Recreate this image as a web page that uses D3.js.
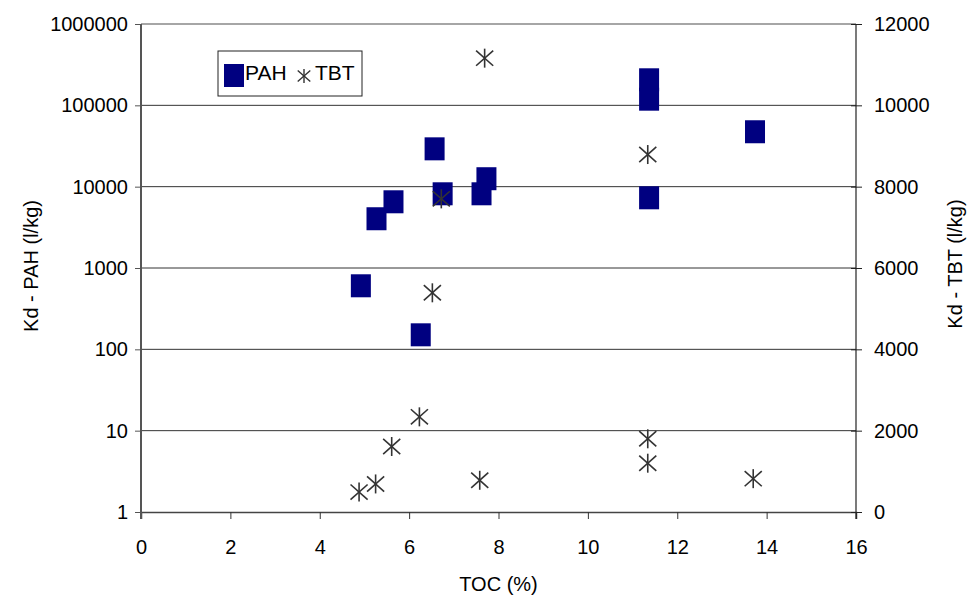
<!DOCTYPE html>
<html>
<head>
<meta charset="utf-8">
<script src="https://cdn.jsdelivr.net/npm/d3@7"></script>
<style>
  body { margin: 0; background: #fff; }
  text { font-family: "Liberation Sans", Arial, sans-serif; fill: #000; }
</style>
</head>
<body>
<svg id="chart" width="971" height="601"></svg>
<script>
// values
var tocPAH = [4.92, 5.27, 5.65, 6.26, 6.57, 6.75, 7.62, 7.73, 11.37, 11.37, 11.37, 13.74];
var kdPAH  = [613, 4090, 6610, 153, 29600, 8290, 8290, 12700, 209000, 120700, 7400, 48000];
var tocTBT = [4.88, 5.25, 5.61, 6.23, 6.52, 6.72, 7.58, 7.69, 11.34, 11.34, 11.34, 13.70];
var kdTBT  = [490, 690, 1610, 2340, 5390, 7700, 780, 11160, 8790, 1800, 1200, 820];

var xTicks = [0, 2, 4, 6, 8, 10, 12, 14, 16];
var leftTicks = [1, 10, 100, 1000, 10000, 100000, 1000000];
var rightTicks = [0, 2000, 4000, 6000, 8000, 10000, 12000];

var L = 141, R = 856, T = 24, B = 512;
var svg = d3.select("#chart");

var x = d3.scaleLinear().domain([0, 16]).range([L, R]);
var yL = d3.scaleLog().domain([1, 1000000]).range([B, T]);
var yR = d3.scaleLinear().domain([0, 12000]).range([B, T]);

/*
    grid + frame
*/
svg.append("g").selectAll("line")
    .data(leftTicks.slice(1, -1))
    .join("line")
    .attr("x1", L).attr("x2", R)
    .attr("y1", d => yL(d)).attr("y2", d => yL(d))
    .attr("stroke", "#333").attr("stroke-width", 1);

svg.append("line")
    .attr("x1", L).attr("x2", R).attr("y1", T).attr("y2", T)
    .attr("stroke", "#888").attr("stroke-width", 1.5);

// x axis
var gx = svg.append("g").attr("transform", "translate(0," + B + ")")
    .call(d3.axisBottom(x).tickValues(xTicks).tickSize(7).tickPadding(21).tickFormat(d3.format("d")));
gx.select(".domain").attr("stroke", "#444").attr("stroke-width", 1.5);
gx.selectAll(".tick line").attr("stroke", "#333");
gx.selectAll(".tick text").style("font-size", "20px").attr("fill", "#000");

// left log axis
var gl = svg.append("g").attr("transform", "translate(" + L + ",0)")
    .call(d3.axisLeft(yL).tickValues(leftTicks).tickSize(6).tickPadding(7).tickFormat(d3.format("d")));
gl.select(".domain").attr("stroke", "#555").attr("stroke-width", 2)
    .attr("d", "M0," + T + "V" + (B + 7));
gl.selectAll(".tick line").attr("stroke", "#555");
gl.selectAll(".tick text").style("font-size", "20px").attr("fill", "#000");

// right linear axis
var gr = svg.append("g").attr("transform", "translate(" + R + ",0)")
    .call(d3.axisRight(yR).tickValues(rightTicks).tickSize(6).tickPadding(12).tickFormat(d3.format("d")));
gr.select(".domain").attr("stroke", "#222").attr("stroke-width", 1.2)
    .attr("d", "M0," + T + "V" + (B + 7));
gr.selectAll(".tick line").attr("stroke", "#222").attr("x1", -5);
gr.selectAll(".tick text").style("font-size", "20px").attr("fill", "#000");

/*
    axis titles
*/
svg.append("text").text("TOC (%)")
    .attr("x", (L + R) / 2).attr("y", 591)
    .attr("text-anchor", "middle").style("font-size", "20px");
svg.append("text").text("Kd - PAH (l/kg)")
    .attr("transform", "translate(38,266) rotate(-90)")
    .attr("text-anchor", "middle").style("font-size", "20px");
svg.append("text").text("Kd - TBT (l/kg)")
    .attr("transform", "translate(962,264) rotate(-90)")
    .attr("text-anchor", "middle").style("font-size", "20px");

/*
    marks
*/
function star(g, s) {
    // Excel star marker: x plus vertical bar
    var w = s * 0.45, h = s * 0.5;
    g.append("line").attr("x1", 0).attr("x2", 0).attr("y1", -h).attr("y2", h);
    g.append("line").attr("x1", -w).attr("x2", w).attr("y1", -h * 0.8).attr("y2", h * 0.8);
    g.append("line").attr("x1", -w).attr("x2", w).attr("y1", h * 0.8).attr("y2", -h * 0.8);
}

svg.append("g").selectAll("rect")
    .data(d3.range(tocPAH.length))
    .join("rect")
    .attr("x", i => x(tocPAH[i]) - 10)
    .attr("y", i => yL(kdPAH[i]) - 11)
    .attr("width", 20).attr("height", 23)
    .attr("fill", "#000080");

var stars = svg.append("g").attr("stroke", "#333").attr("stroke-width", 1.6)
    .selectAll("g")
    .data(d3.range(tocTBT.length))
    .join("g")
    .attr("transform", i => "translate(" + x(tocTBT[i]) + "," + yR(kdTBT[i]) + ")");
stars.each(function () { star(d3.select(this), 19); });

/*
    legend
*/
var lg = svg.append("g");
lg.append("rect").attr("x", 218).attr("y", 51).attr("width", 144).attr("height", 45)
    .attr("fill", "#fff").attr("stroke", "#222").attr("stroke-width", 1);
lg.append("rect").attr("x", 224).attr("y", 64).attr("width", 20).attr("height", 23)
    .attr("fill", "#000080");
lg.append("text").text("PAH").attr("x", 245).attr("y", 80).style("font-size", "21px");
var ls = lg.append("g").attr("stroke", "#333").attr("stroke-width", 1.4)
    .attr("transform", "translate(304,76)");
star(ls, 14);
lg.append("text").text("TBT").attr("x", 315).attr("y", 80).style("font-size", "21px");
</script>
</body>
</html>
